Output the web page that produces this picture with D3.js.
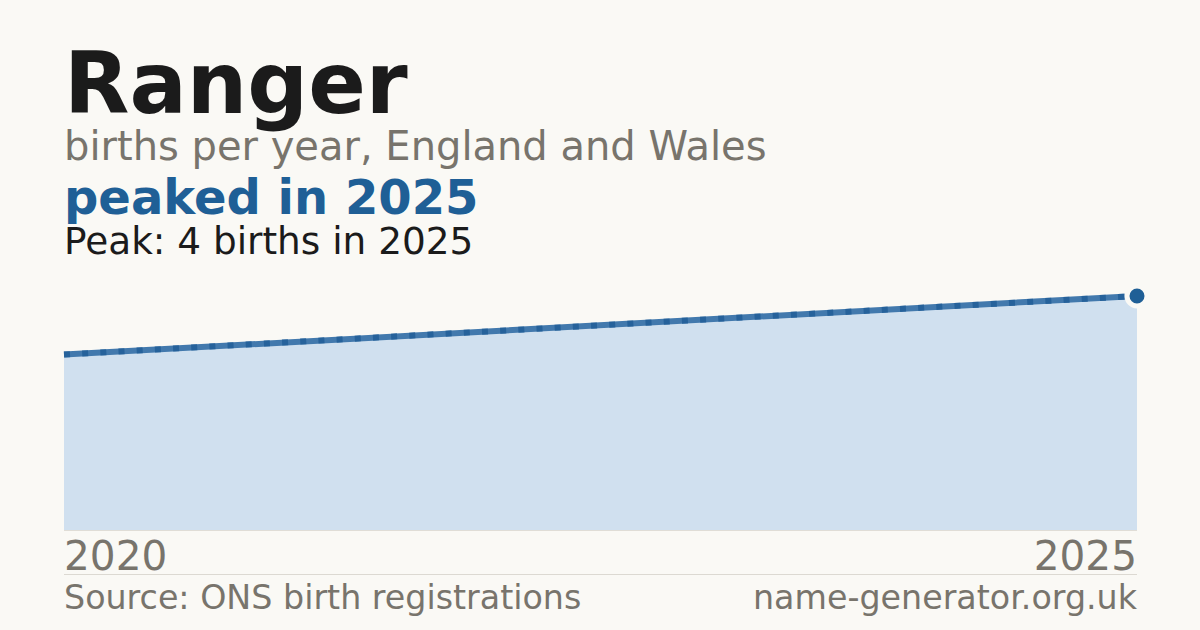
<!DOCTYPE html>
<html>
<head>
<meta charset="utf-8">
<script src="https://cdn.jsdelivr.net/npm/d3@7"></script>
<style>
  html, body { margin: 0; padding: 0; background: #faf9f5; }
  svg { display: block; font-family: "DejaVu Sans", sans-serif; }
</style>
</head>
<body>
<div id="chart"></div>
<script>
// data
var years = [2020, 2025];
var births = [3, 4];
var tickYears = ["2020", "2025"];

var width = 1200, height = 630;
var margin = { left: 64, right: 63, top: 296, bottom: 100 };

var svg = d3.select("#chart").append("svg")
    .attr("width", width)
    .attr("height", height);

svg.append("rect")
    .attr("width", width)
    .attr("height", height)
    .attr("fill", "#faf9f5");

var x = d3.scaleLinear()
    .domain(d3.extent(years))
    .range([margin.left, width - margin.right]);

var y = d3.scaleLinear()
    .domain([0, d3.max(births)])
    .range([height - margin.bottom, margin.top]);

var data = years.map(function(d, i) { return { year: d, value: births[i] }; });

// headings
svg.append("text")
    .attr("x", 64).attr("y", 113)
    .attr("font-size", 85).attr("font-weight", "bold")
    .attr("fill", "#1b1b1b")
    .text("Ranger");

svg.append("text")
    .attr("x", 64).attr("y", 160)
    .attr("font-size", 40)
    .attr("fill", "#78746c")
    .text("births per year, England and Wales");

svg.append("text")
    .attr("x", 64).attr("y", 214)
    .attr("font-size", 48).attr("font-weight", "bold")
    .attr("fill", "#1f5f96")
    .text("peaked in 2025");

svg.append("text")
    .attr("x", 64).attr("y", 254)
    .attr("font-size", 37.4)
    .attr("fill", "#1b1b1b")
    .text("Peak: 4 births in 2025");

// area + line
var area = d3.area()
    .x(function(d) { return x(d.year); })
    .y0(y(0))
    .y1(function(d) { return y(d.value); });

var line = d3.line()
    .x(function(d) { return x(d.year); })
    .y(function(d) { return y(d.value); });

svg.append("path")
    .datum(data)
    .attr("d", area)
    .attr("fill", "#d0e0ef");

svg.append("line")
    .attr("x1", x(2020)).attr("x2", x(2025))
    .attr("y1", y(0) + 0.5).attr("y2", y(0) + 0.5)
    .attr("stroke", "#e0ddd6");

svg.append("path")
    .datum(data)
    .attr("d", line)
    .attr("fill", "none")
    .attr("stroke", "#4279ad")
    .attr("stroke-width", 6);

// darker joints along the stroke
svg.append("path")
    .datum(data)
    .attr("d", line)
    .attr("fill", "none")
    .attr("stroke", "#215e98")
    .attr("stroke-width", 6)
    .attr("stroke-opacity", 0.85)
    .attr("stroke-dasharray", "6,12.2");

// end marker
var last = data[data.length - 1];
svg.append("circle")
    .attr("cx", x(last.year))
    .attr("cy", y(last.value))
    .attr("r", 10)
    .attr("fill", "#1f5f96")
    .attr("stroke", "#faf9f5")
    .attr("stroke-width", 5);

// x labels
svg.selectAll(".tick-label")
    .data(tickYears)
    .enter().append("text")
    .attr("class", "tick-label")
    .attr("x", function(d) { return x(+d); })
    .attr("y", 570)
    .attr("text-anchor", function(d, i) { return i == 0 ? "start" : "end"; })
    .attr("font-size", 40.6)
    .attr("fill", "#78746c")
    .text(function(d) { return d; });

svg.append("line")
    .attr("x1", x(2020)).attr("x2", x(2025))
    .attr("y1", 574.5).attr("y2", 574.5)
    .attr("stroke", "#dcd9d2");

// footer
svg.append("text")
    .attr("x", 64).attr("y", 609)
    .attr("font-size", 33.3)
    .attr("fill", "#78746c")
    .text("Source: ONS birth registrations");

svg.append("text")
    .attr("x", x(2025)).attr("y", 609)
    .attr("text-anchor", "end")
    .attr("font-size", 33.3)
    .attr("fill", "#78746c")
    .text("name-generator.org.uk");
</script>
</body>
</html>
